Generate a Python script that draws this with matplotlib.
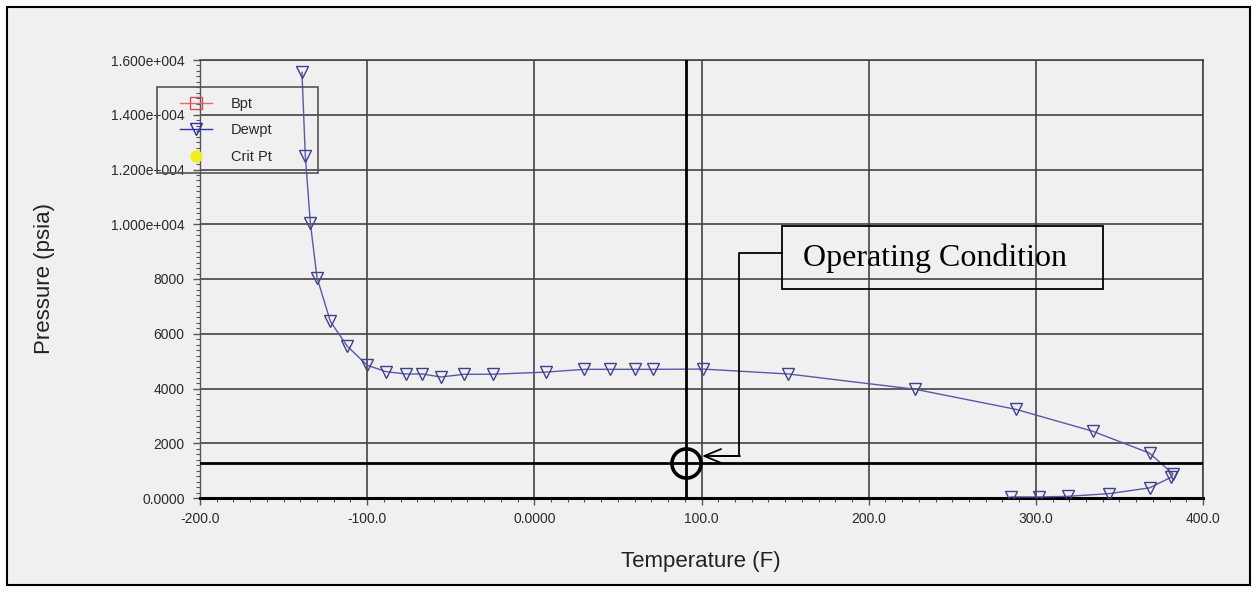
import matplotlib
matplotlib.use("Agg")
import matplotlib.pyplot as plt
from matplotlib.patches import Rectangle
from matplotlib.lines import Line2D
from matplotlib.ticker import FixedLocator, FixedFormatter, MultipleLocator

# Dew point curve (temperature F, pressure psia)
dewpt_temp = [-139, -137, -134, -130, -122, -112, -100, -89, -77, -67, -56, -42, -25,
              7, 30, 45, 60, 71, 101, 152, 228, 288, 334, 368, 382, 381, 368, 344,
              319, 302, 285]
dewpt_pres = [15550, 12500, 10050, 8050, 6450, 5550, 4850, 4620, 4530, 4530, 4420,
              4520, 4520, 4600, 4700, 4700, 4700, 4700, 4710, 4530, 3970, 3240,
              2440, 1640, 880, 760, 370, 160, 60, 40, 40]
bpt_temp, bpt_pres = [], []
crit_temp, crit_pres = [], []

# operating condition
op_temp = 91
op_pres = 1280

x_ticks = [-200, -100, 0, 100, 200, 300, 400]
x_labels = ["-200.0", "-100.0", "0.0000", "100.0", "200.0", "300.0", "400.0"]
y_ticks = [0, 2000, 4000, 6000, 8000, 10000, 12000, 14000, 16000]
y_labels = ["0.0000", "2000", "4000", "6000", "8000", "1.000e+004", "1.200e+004",
            "1.400e+004", "1.600e+004"]

W, H = 1257, 597
BG = "#f0f0f0"


def fx(px):
    return px / W


def fy(py):
    return 1 - py / H


fig = plt.figure(figsize=(W / 100, H / 100), dpi=100, facecolor="white")
fig.add_artist(Rectangle((fx(7), fy(585)), fx(1243), 578 / H, transform=fig.transFigure,
                         fc=BG, ec="black", lw=1.5, zorder=-5))

ax = fig.add_axes([fx(200), fy(498), fx(1003), 438 / H])
ax.set_facecolor("none")

ax.plot(dewpt_temp, dewpt_pres, color="#5858a8", lw=1.0, marker="v", ms=9,
        mfc="none", mec="#40408c", mew=1.0, zorder=3)
ax.plot(bpt_temp, bpt_pres, color="#e07070", marker="s", mfc="none")
ax.plot(crit_temp, crit_pres, color="#f0f020", marker="o", ls="none")

ax.set_xlim(-200, 400)
ax.set_ylim(0, 16000)
ax.xaxis.set_major_locator(FixedLocator(x_ticks))
ax.xaxis.set_major_formatter(FixedFormatter(x_labels))
ax.yaxis.set_major_locator(FixedLocator(y_ticks))
ax.yaxis.set_major_formatter(FixedFormatter(y_labels))
ax.xaxis.set_minor_locator(MultipleLocator(10))
ax.yaxis.set_minor_locator(MultipleLocator(200))

ax.grid(True, which="major", color="#444444", lw=1.2)
ax.set_axisbelow(True)
for s in ["top", "right"]:
    ax.spines[s].set_color("#444444")
    ax.spines[s].set_linewidth(1.2)
ax.spines["left"].set_color("#555555")
ax.spines["left"].set_linewidth(1.0)
ax.spines["bottom"].set_color("black")
ax.spines["bottom"].set_linewidth(2.2)

ax.tick_params(which="major", direction="out", length=5, width=1, color="#555555",
               labelsize=10, labelcolor="#2a2a2a", labelfontfamily="Liberation Sans")
ax.tick_params(axis="y", which="major", pad=6)
ax.tick_params(axis="x", which="major", pad=5)
ax.tick_params(which="minor", direction="out", length=3, width=0.8, color="#555555")

# operating condition cross-hair and circle
ax.axvline(op_temp, ymax=1, color="black", lw=2, zorder=4)
ax.axhline(op_pres, color="black", lw=2, zorder=4)
ax.plot([op_temp], [op_pres], marker="o", ms=21, mfc="none", mec="black", mew=2.6,
        zorder=5, clip_on=False)

# callout box and connector
fig.add_artist(Rectangle((fx(782), fy(289)), fx(321), 63 / H, transform=fig.transFigure,
                         fc="none", ec="black", lw=1.3, zorder=6))
fig.text(fx(803), fy(258), "Operating Condition", family="Liberation Serif", fontsize=23,
         ha="left", va="center", color="black", zorder=6)
fig.add_artist(Line2D([fx(782), fx(739), fx(739), fx(712)], [fy(253), fy(253), fy(456), fy(456)],
                      transform=fig.transFigure, color="black", lw=1.3, zorder=6))
ax.annotate("", xy=(fig.transFigure.transform((fx(702), fy(456)))),
            xycoords="figure pixels",
            xytext=(fig.transFigure.transform((fx(740), fy(456)))),
            textcoords="figure pixels",
            arrowprops=dict(arrowstyle="->,head_length=1.2,head_width=0.5", color="black",
                            lw=1.3, shrinkA=0, shrinkB=0), zorder=6)

# legend
handles = [
    Line2D([], [], color="#e07070", marker="s", ms=8, mfc="none", mec="#d05050", lw=1),
    Line2D([], [], color="#3030a0", marker="v", ms=8, mfc="none", mec="#3030a0", lw=1),
    Line2D([], [], color="#f0f020", marker="o", ms=8, ls="none"),
]
leg = fig.legend(handles, ["Bpt", "Dewpt", "Crit Pt"], loc="upper left",
                 bbox_to_anchor=(fx(180), fy(97)), bbox_transform=fig.transFigure,
                 frameon=False, borderpad=0, borderaxespad=0, handlelength=2.2,
                 handletextpad=1.3, labelspacing=0.85,
                 prop={"family": "Liberation Sans", "size": 10.5})
for t in leg.get_texts():
    t.set_color("#2a2a2a")
fig.add_artist(Rectangle((fx(157), fy(173)), fx(161), 86 / H, transform=fig.transFigure,
                         fc="none", ec="#555555", lw=1.2, zorder=7))

fig.text(fx(45), fy(279), "Pressure (psia)", rotation=90, ha="center", va="center",
         family="Liberation Sans", fontsize=16, color="#222222")
fig.text(fx(701), fy(562), "Temperature (F)", ha="center", va="center",
         family="Liberation Sans", fontsize=16, color="#222222")

fig.savefig("out.png", dpi=100, facecolor="white")
